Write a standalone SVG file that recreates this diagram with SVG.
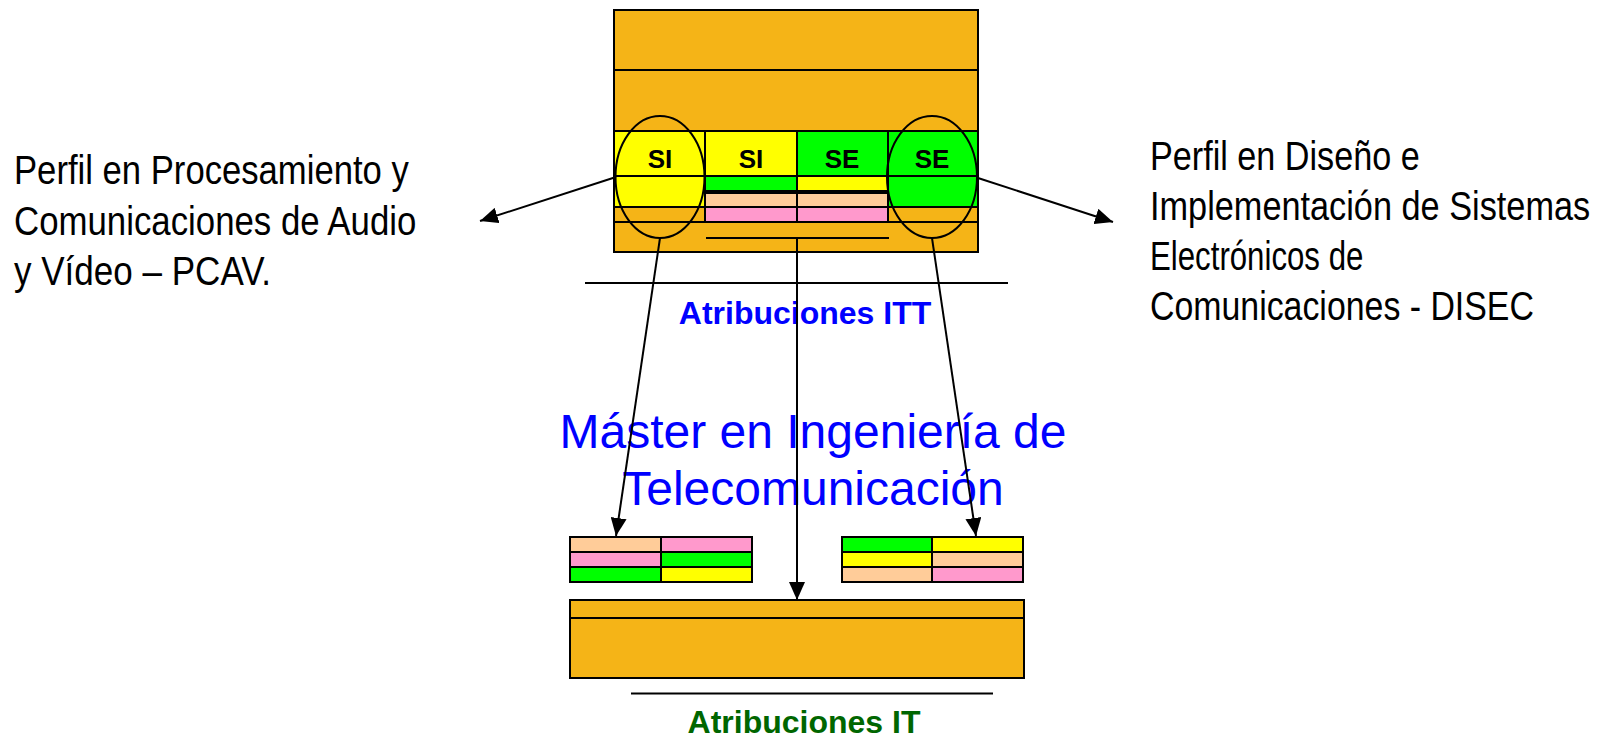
<svg xmlns="http://www.w3.org/2000/svg" width="1606" height="737" viewBox="0 0 1606 737">
<style>
.o{fill:#F5B417;stroke:#000;stroke-width:2}
.y{fill:#FFFF00;stroke:#000;stroke-width:2}
.g{fill:#00FF00;stroke:#000;stroke-width:2}
.p{fill:#FFCC99;stroke:#000;stroke-width:2}
.k{fill:#FF99CC;stroke:#000;stroke-width:2}
.ln{stroke:#000;stroke-width:2;fill:none}
.cell{font-family:"Liberation Sans",Arial,sans-serif;font-weight:bold;font-size:26px;fill:#000;text-anchor:middle}
.side{font-family:"Liberation Sans",Arial,sans-serif;font-size:41px;fill:#000}
.attr{font-family:"Liberation Sans",Arial,sans-serif;font-weight:bold;font-size:32px;text-anchor:middle}
.master{font-family:"Liberation Sans",Arial,sans-serif;font-size:48px;fill:#0000FF;text-anchor:middle}
</style>
<defs>
<marker id="ah" markerWidth="18" markerHeight="16" refX="18" refY="8" orient="auto" markerUnits="userSpaceOnUse">
<path d="M0,0 L18,8 L0,16 Z" fill="#000"/>
</marker>
</defs>

<g id="itt-block">
<rect class="o" x="614" y="10" width="364" height="242"/>
<line class="ln" x1="614" y1="70" x2="978" y2="70"/>
<line class="ln" x1="614" y1="131" x2="978" y2="131"/>
<rect class="y" x="614" y="131" width="91" height="76"/>
<rect class="y" x="705" y="131" width="92" height="45"/>
<rect class="g" x="797" y="131" width="91" height="45"/>
<rect class="g" x="888" y="131" width="90" height="76"/>
<line class="ln" x1="614" y1="176" x2="978" y2="176"/>
<rect class="g" x="705" y="176" width="92" height="15"/>
<rect class="y" x="797" y="176" width="91" height="15"/>
<rect class="p" x="705" y="193" width="92" height="14"/>
<rect class="p" x="797" y="193" width="91" height="14"/>
<rect class="k" x="705" y="207" width="92" height="15"/>
<rect class="k" x="797" y="207" width="91" height="15"/>
<line class="ln" x1="614" y1="222" x2="978" y2="222"/>
<line class="ln" x1="706" y1="238" x2="889" y2="238"/>
<text class="cell" x="660" y="168">SI</text>
<text class="cell" x="751" y="168">SI</text>
<text class="cell" x="842" y="168">SE</text>
<text class="cell" x="932" y="168">SE</text>
<ellipse class="ln" cx="660" cy="177" rx="44.5" ry="61"/>
<ellipse class="ln" cx="932" cy="177" rx="45" ry="61"/>
</g>

<g id="itt-label">
<line class="ln" x1="585" y1="283" x2="1008" y2="283"/>
<text class="attr" x="805" y="324" fill="#0000FF">Atribuciones ITT</text>
</g>

<g id="master-label">
<text class="master" x="813" y="448">Máster en Ingeniería de</text>
<text class="master" x="813" y="505">Telecomunicación</text>
</g>

<g id="pcav-label" transform="translate(14,0) scale(0.84,1)">
<text class="side" x="0" y="184" textLength="470" lengthAdjust="spacingAndGlyphs">Perfil en Procesamiento y</text>
<text class="side" x="0" y="235" textLength="479" lengthAdjust="spacingAndGlyphs">Comunicaciones de Audio</text>
<text class="side" x="0" y="285" textLength="306" lengthAdjust="spacingAndGlyphs">y Vídeo – PCAV.</text>
</g>

<g id="disec-label" transform="translate(1150,0) scale(0.84,1)">
<text class="side" x="0" y="170" textLength="321" lengthAdjust="spacingAndGlyphs">Perfil en Diseño e</text>
<text class="side" x="0" y="220" textLength="524" lengthAdjust="spacingAndGlyphs">Implementación de Sistemas</text>
<text class="side" x="0" y="270" textLength="254" lengthAdjust="spacingAndGlyphs">Electrónicos de</text>
<text class="side" x="0" y="320" textLength="457" lengthAdjust="spacingAndGlyphs">Comunicaciones - DISEC</text>
</g>

<g id="pcav-table">
<rect class="p" x="570" y="537" width="91" height="15"/>
<rect class="k" x="661" y="537" width="91" height="15"/>
<rect class="k" x="570" y="552" width="91" height="15"/>
<rect class="g" x="661" y="552" width="91" height="15"/>
<rect class="g" x="570" y="567" width="91" height="15"/>
<rect class="y" x="661" y="567" width="91" height="15"/>
</g>

<g id="disec-table">
<rect class="g" x="842" y="537" width="90" height="15"/>
<rect class="y" x="932" y="537" width="91" height="15"/>
<rect class="y" x="842" y="552" width="90" height="15"/>
<rect class="p" x="932" y="552" width="91" height="15"/>
<rect class="p" x="842" y="567" width="90" height="15"/>
<rect class="k" x="932" y="567" width="91" height="15"/>
</g>

<g id="it-block">
<rect class="o" x="570" y="600" width="454" height="78"/>
<line class="ln" x1="570" y1="618" x2="1024" y2="618"/>
</g>

<g id="it-label">
<line class="ln" x1="631" y1="693.5" x2="993" y2="693.5"/>
<text class="attr" x="804" y="733" fill="#006600">Atribuciones IT</text>
</g>

<g id="connectors">
<line class="ln" x1="616" y1="177" x2="480" y2="221" marker-end="url(#ah)"/>
<line class="ln" x1="978" y1="178" x2="1113" y2="222" marker-end="url(#ah)"/>
<line class="ln" x1="660" y1="238" x2="616" y2="536" marker-end="url(#ah)"/>
<line class="ln" x1="797" y1="238" x2="797" y2="600" marker-end="url(#ah)"/>
<line class="ln" x1="932" y1="238" x2="976" y2="536" marker-end="url(#ah)"/>
</g>
</svg>
